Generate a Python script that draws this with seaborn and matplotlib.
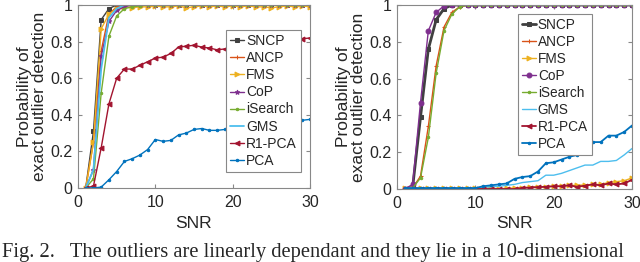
import numpy as np
import pandas as pd
import matplotlib
matplotlib.use("Agg")
import matplotlib.pyplot as plt
import seaborn as sns

# SNR values shared by both panels
snr = list(range(1, 31))

# ---- left panel ----
left_sncp = [0, 0.31, 0.92, 0.98, 1.0, 1, 1, 1, 1, 1, 1, 1, 1, 1, 1, 1, 1, 1, 1, 1, 1, 1, 1, 1, 1, 1, 1, 1, 1, 1]
left_ancp = [0, 0.25, 0.75, 0.95, 0.99, 1, 1, 1, 1, 1, 1, 1, 1, 1, 1, 1, 1, 1, 1, 1, 1, 1, 1, 1, 1, 1, 1, 1, 1, 1]
left_fms = [0, 0.25, 0.87, 0.95, 0.98, 0.99, 0.985, 0.99, 0.99, 0.995, 0.99, 0.99, 0.995, 0.985, 0.99, 0.995, 0.99,
            0.995, 0.99, 0.995, 0.99, 0.995, 0.99, 0.99, 0.985, 0.99, 0.995, 0.99, 0.995, 0.99]
left_cop = [0, 0.1, 0.72, 0.91, 0.97, 0.99, 1, 1, 1, 1, 1, 1, 1, 1, 1, 1, 1, 1, 1, 1, 1, 1, 1, 1, 1, 1, 1, 1, 1, 1]
left_isearch = [0, 0.05, 0.52, 0.83, 0.94, 0.98, 0.99, 0.995, 1, 1, 1, 1, 1, 1, 1, 1, 1, 1, 1, 1, 1, 1, 1, 1, 1, 1, 1, 1, 1, 1]
left_gms = [0, 0.1, 0.65, 0.93, 0.98, 1, 1, 1, 1, 1, 1, 1, 1, 1, 1, 1, 1, 1, 1, 1, 1, 1, 1, 1, 1, 1, 1, 1, 1, 1]
left_r1pca = [0, 0.01, 0.22, 0.46, 0.60, 0.65, 0.65, 0.67, 0.69, 0.71, 0.715, 0.735, 0.77, 0.775, 0.78, 0.77, 0.765,
              0.755, 0.76, 0.76, 0.765, 0.77, 0.775, 0.78, 0.785, 0.79, 0.795, 0.80, 0.815, 0.82]
left_pca = [0, 0, 0.005, 0.045, 0.09, 0.145, 0.16, 0.18, 0.21, 0.265, 0.255, 0.26, 0.29, 0.30, 0.32, 0.325, 0.315,
            0.315, 0.32, 0.33, 0.335, 0.34, 0.345, 0.35, 0.355, 0.36, 0.36, 0.365, 0.37, 0.375]

# ---- right panel ----
right_sncp = [0, 0.01, 0.39, 0.76, 0.92, 0.98, 1, 1, 1, 1, 1, 1, 1, 1, 1, 1, 1, 1, 1, 1, 1, 1, 1, 1, 1, 1, 1, 1, 1, 1]
right_ancp = [0, 0.005, 0.07, 0.34, 0.67, 0.88, 0.96, 0.99, 1, 1, 1, 1, 1, 1, 1, 1, 1, 1, 1, 1, 1, 1, 1, 1, 1, 1, 1, 1, 1, 1]
right_fms = [0.005, 0.005, 0.005, 0.005, 0.005, 0.005, 0.005, 0.005, 0.005, 0.005, 0.005, 0.005, 0.0, 0.005, 0.005,
             0.008, 0.01, 0.012, 0.012, 0.015, 0.015, 0.02, 0.02, 0.022, 0.025, 0.025, 0.035, 0.04, 0.045, 0.06]
right_cop = [0, 0.025, 0.47, 0.86, 0.96, 0.995, 1, 1, 1, 1, 1, 1, 1, 1, 1, 1, 1, 1, 1, 1, 1, 1, 1, 1, 1, 1, 1, 1, 1, 1]
right_isearch = [0, 0.005, 0.06, 0.28, 0.63, 0.86, 0.95, 0.99, 1, 1, 1, 1, 1, 1, 1, 1, 1, 1, 1, 1, 1, 1, 1, 1, 1, 1, 1, 1, 1, 1]
right_gms = [0.005, 0.005, 0.005, 0.005, 0.005, 0.005, 0.005, 0.005, 0.005, 0.005, 0.01, 0.012, 0.015, 0.02, 0.025,
             0.035, 0.04, 0.045, 0.075, 0.075, 0.085, 0.10, 0.115, 0.13, 0.13, 0.15, 0.15, 0.155, 0.185, 0.22]
right_r1pca = [0, 0, 0, 0, 0, 0, 0, 0, 0, 0, 0, 0, 0, 0, 0.0, 0.005, 0.008, 0.01, 0.012, 0.015, 0.015, 0.02, 0.012,
               0.018, 0.025, 0.02, 0.03, 0.025, 0.03, 0.05]
right_pca = [0.005, 0.005, 0.005, 0.005, 0.005, 0.005, 0.005, 0.005, 0.005, 0.005, 0.015, 0.02, 0.025, 0.03, 0.055,
             0.065, 0.07, 0.095, 0.14, 0.145, 0.16, 0.175, 0.185, 0.20, 0.255, 0.255, 0.29, 0.29, 0.31, 0.345]

labels = ["SNCP", "ANCP", "FMS", "CoP", "iSearch", "GMS", "R1-PCA", "PCA"]
caption = "Fig. 2.   The outliers are linearly dependant and they lie in a 10-dimensional"

sns.set_style("ticks")
plt.rcParams['font.family'] = ['Liberation Sans', 'DejaVu Sans']

colors = ["#404040", "#D95319", "#EDB120", "#7E2F8E", "#77AC30", "#4DBEEE", "#A2142F", "#0072BD"]


def draw_panel(ax, series, markers, widths, legend_anchor, legend_size):
    for lab, vals, col, mk, lw in zip(labels, series, colors, markers, widths):
        df = pd.DataFrame({"SNR": snr, "P": vals})
        sns.lineplot(data=df, x="SNR", y="P", ax=ax, color=col, marker=mk, markersize=3.5,
                     markeredgecolor=col, linewidth=lw, label=lab)
    ax.set_xlim(0, 30)
    ax.set_ylim(0, 1)
    ax.set_xticks([0, 10, 20, 30])
    ax.set_yticks([0, 0.2, 0.4, 0.6, 0.8, 1])
    ax.set_yticklabels(["0", "0.2", "0.4", "0.6", "0.8", "1"])
    ax.set_xlabel("SNR", fontsize=12.5, labelpad=4)
    ax.set_ylabel("Probability of\nexact outlier detection", fontsize=12.5, labelpad=2, linespacing=1.05)
    ax.tick_params(direction="in", length=3, top=True, right=True, labelsize=11.5, color="#888888")
    ax.tick_params(axis="x", pad=5)
    ax.tick_params(axis="y", pad=4)
    for s in ax.spines.values():
        s.set_color("#888888")
        s.set_linewidth(0.8)
    leg = ax.legend(loc="upper left", bbox_to_anchor=legend_anchor, borderaxespad=0, fontsize=legend_size,
                    handlelength=1.0, handletextpad=0.15, labelspacing=0.22, borderpad=0.3,
                    fancybox=False, framealpha=1, edgecolor="#888888")
    leg.get_frame().set_linewidth(0.8)


fig = plt.figure(figsize=(6.4, 2.62), dpi=100)
ax1 = fig.add_axes([78 / 640, 1 - 188 / 262, 232 / 640, 183 / 262])
ax2 = fig.add_axes([397 / 640, 1 - 189 / 262, 235 / 640, 184 / 262])

draw_panel(ax1, [left_sncp, left_ancp, left_fms, left_cop, left_isearch, left_gms, left_r1pca, left_pca],
           ["s", "+", ">", "*", ".", None, "<", "."], [1, 1, 1, 1, 1, 1.3, 1, 1], (0.638, 0.863), 10)
draw_panel(ax2, [right_sncp, right_ancp, right_fms, right_cop, right_isearch, right_gms, right_r1pca, right_pca],
           ["s", "+", ">", "o", ".", None, "<", "."], [2, 1, 1, 1, 1, 1, 1.3, 1.3], (0.515, 0.951), 9.8)

fig.text(0.003, 1 - 257 / 262, caption, fontsize=14.8, family=["Liberation Serif", "DejaVu Serif"],
         ha="left", va="baseline")

fig.savefig("out.png", dpi=100)
